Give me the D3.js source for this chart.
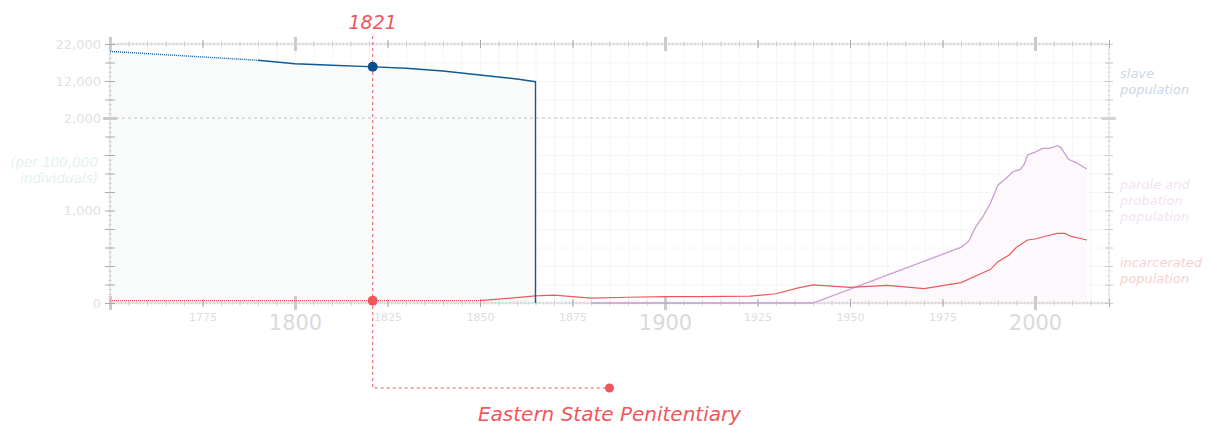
<!DOCTYPE html>
<html>
<head>
<meta charset="utf-8">
<script src="https://cdn.jsdelivr.net/npm/d3@7"></script>
<style>
  body { margin:0; background:#fff; }
  svg text { font-family:"DejaVu Sans", Verdana, sans-serif; }
</style>
</head>
<body>
<div id="canvas"></div>
<script>
// data (rates per 100,000 individuals)
var slaveYears = [1750, 1790, 1800, 1810, 1820, 1830, 1840, 1850, 1860, 1865, 1865];
var slaveRate  = [20000, 17600, 16680, 16270, 15890, 15460, 14700, 13620, 12540, 11810, 0];
var slaveEstimatedUntil = 1790;

var prisonYears = [1750, 1850, 1865, 1870, 1880, 1890, 1900, 1910, 1923, 1930, 1936, 1940, 1950, 1960, 1970, 1980, 1984, 1988, 1990, 1993, 1995, 1998, 2000, 2003, 2006, 2008, 2010, 2012, 2014];
var prisonRate  = [25, 25, 76, 86, 52, 62, 68, 68, 74, 100, 163, 195, 170, 191, 155, 220, 292, 364, 447, 519, 602, 681, 692, 724, 753, 753, 717, 700, 681];
var prisonEstimatedUntil = 1850;

var paroleYears = [1880, 1940, 1980, 1982, 1984, 1986, 1988, 1990, 1992, 1994, 1996, 1997, 1998, 2000, 2002, 2004, 2006, 2007, 2009, 2011, 2014];
var paroleRate  = [0, 0, 602, 663, 825, 940, 1083, 1276, 1341, 1419, 1445, 1492, 1600, 1630, 1672, 1672, 1701, 1683, 1553, 1521, 1449];

var yTickLabels = [0, 1000, 2000, 12000, 22000];
var smallYearLabels = [1775, 1825, 1850, 1875, 1925, 1950, 1975];
var bigYearLabels = [1800, 1900, 2000];

var eventYear = 1821;
var eventLabel = 'Eastern State Penitentiary';
var eventLabelYear = 1885;

var W = 1211, H = 428;
var m = {t:44, r:101, b:125, l:110};

var x = d3.scaleLinear().domain([1750, 2020]).range([m.l, W - m.r - 1]);
var y = d3.scaleLinear().domain([0, 2000, 22000]).range([H - m.b, 118, m.t]);

var x0 = x.range()[0], x1 = x.range()[1];
var yTop = y(22000), yBot = y(0);

var svg = d3.select('#canvas').append('svg')
    .attr('width', W).attr('height', H);

var red = '#f0575c', blue = '#0f5a96', purple = '#c99fd2';

function pairs(xs, vs){ return xs.map(function(d,i){ return [d, vs[i]]; }); }
var slave = pairs(slaveYears, slaveRate);
var prison = pairs(prisonYears, prisonRate);
var parole = pairs(paroleYears, paroleRate);

var yGridValues = d3.range(0, 2001, 200).concat([7000, 12000, 17000, 22000]);
var yMinorValues = d3.range(0, 2001, 50).concat(d3.range(2000, 22001, 1250));

// grid
var gv = svg.append('g').attr('transform','translate(0,' + yTop + ')')
    .call(d3.axisBottom(x).tickValues(d3.range(1750, 2021, 5)).tickSize(yBot - yTop).tickFormat(''));
gv.select('.domain').remove();
gv.selectAll('line').attr('stroke', '#f5f5f5');

var gh = svg.append('g').attr('transform','translate(' + x0 + ',0)')
    .call(d3.axisLeft(y).tickValues(yGridValues).tickSize(-(x1 - x0)).tickFormat(''));
gh.select('.domain').remove();
gh.selectAll('line').attr('stroke', '#f6f6f6');

// areas
var area = d3.area().x(function(d){ return x(d[0]); }).y0(yBot).y1(function(d){ return y(d[1]); });
svg.append('path').datum(slave).attr('d', area).attr('fill', '#f8fbfa');
svg.append('path').datum(parole).attr('d', area).attr('fill', '#fcf8fc');

// dashed line at 2,000
svg.append('line').attr('x1', x0).attr('x2', x1).attr('y1', y(2000)).attr('y2', y(2000))
    .attr('stroke', '#c4c4c4').attr('stroke-dasharray', '3,3');

// tick rows on the axes
function xTicks(yPos, values, size, color, width){
    var g = svg.append('g').attr('transform', 'translate(0,' + (yPos - size) + ')')
        .call(d3.axisBottom(x).tickValues(values).tickSize(size * 2).tickFormat(''));
    g.select('.domain').remove();
    g.selectAll('line').attr('stroke', color).attr('stroke-width', width);
}
function yTicks(xPos, values, size, color, width){
    var g = svg.append('g').attr('transform', 'translate(' + (xPos + size) + ',0)')
        .call(d3.axisLeft(y).tickValues(values).tickSize(size * 2).tickFormat(''));
    g.select('.domain').remove();
    g.selectAll('line').attr('stroke', color).attr('stroke-width', width);
}

[yTop, yBot].forEach(function(yy){
    svg.append('line').attr('x1', x0).attr('x2', x1).attr('y1', yy).attr('y2', yy)
        .attr('stroke', '#d4d4d4');
    xTicks(yy, d3.range(1750, 2021, 1), 1.5, '#d4d4d4', 1);
    xTicks(yy, d3.range(1750, 2021, 5), 2.5, '#cccccc', 1);
    xTicks(yy, [1775, 1825, 1850, 1875, 1925, 1950, 1975, 2020], 4, '#a8a8a8', 1);
    xTicks(yy, [1750, 1800, 1900, 2000], 7, '#cbcbcb', 3);
});
[[x0, 1], [x1, 0.6]].forEach(function(p){
    var g = svg.append('g').attr('opacity', p[1]);
    g.append('line').attr('x1', p[0]).attr('x2', p[0]).attr('y1', yTop).attr('y2', yBot)
        .attr('stroke', '#d0d0d0');
});
yTicks(x0, yMinorValues, 1.5, '#cccccc', 1);
yTicks(x0, yGridValues, 5, '#ababab', 1);
yTicks(x1, yMinorValues, 1.5, '#dadada', 1);
yTicks(x1, yGridValues, 4, '#cacaca', 1);
yTicks(x0, [2000], 7, '#cacaca', 3);
yTicks(x1, [2000], 7, '#d4d4d4', 3);

// axis labels
var ya = svg.append('g').attr('transform', 'translate(' + (x0 - 9) + ',0)')
    .call(d3.axisLeft(y).tickValues(yTickLabels).tickSize(0).tickPadding(0).tickFormat(d3.format(',')));
ya.select('.domain').remove();
ya.selectAll('text').attr('fill', '#e2e2e2').style('font-size', '13px');

var xs = svg.append('g').attr('transform', 'translate(0,' + (yBot + 10) + ')')
    .call(d3.axisBottom(x).tickValues(smallYearLabels).tickSize(0).tickPadding(0).tickFormat(d3.format('d')));
xs.select('.domain').remove();
xs.selectAll('text').attr('fill', '#dedede').style('font-size', '11px');

var xb = svg.append('g').attr('transform', 'translate(0,' + (yBot + 12) + ')')
    .call(d3.axisBottom(x).tickValues(bigYearLabels).tickSize(0).tickPadding(0).tickFormat(d3.format('d')));
xb.select('.domain').remove();
xb.selectAll('text').attr('fill', '#dadada').style('font-size', '21px');

// lines
var line = d3.line().x(function(d){ return x(d[0]); }).y(function(d){ return y(d[1]); });
function drawSeries(data, cut, color, width){
    svg.append('path').datum(data.filter(function(d){ return d[0] <= cut; }))
        .attr('d', line).attr('fill', 'none').attr('stroke', color)
        .attr('stroke-width', width).attr('stroke-dasharray', '1,1');
    svg.append('path').datum(data.filter(function(d){ return d[0] >= cut; }))
        .attr('d', line).attr('fill', 'none').attr('stroke', color).attr('stroke-width', width);
}
drawSeries(parole, 0, purple, 1.3);
drawSeries(prison, prisonEstimatedUntil, red, 1.2);
drawSeries(slave, slaveEstimatedUntil, blue, 1.4);

// event annotation
var slaveAt = d3.scaleLinear().domain(slaveYears.slice(0, -1)).range(slaveRate.slice(0, -1));
var prisonAt = d3.scaleLinear().domain(prisonYears).range(prisonRate);
var ex = x(eventYear), elY = 388;

svg.append('path')
    .attr('d', 'M' + ex + ',36V' + elY + 'H' + x(eventLabelYear))
    .attr('fill', 'none').attr('stroke', red).attr('stroke-dasharray', '3,3');
svg.append('circle').attr('cx', x(eventLabelYear)).attr('cy', elY).attr('r', 4.5).attr('fill', red);
svg.append('circle').attr('cx', ex).attr('cy', y(slaveAt(eventYear))).attr('r', 5).attr('fill', '#0b4f8a');
svg.append('circle').attr('cx', ex).attr('cy', y(prisonAt(eventYear))).attr('r', 5).attr('fill', red);

svg.append('text').attr('x', ex).attr('y', 29).attr('text-anchor', 'middle')
    .attr('fill', red).style('font-size', '19px').style('font-style', 'italic').text(eventYear);
svg.append('text').attr('x', x(eventLabelYear)).attr('y', 421).attr('text-anchor', 'middle')
    .attr('fill', red).style('font-size', '20px').style('font-style', 'italic').text(eventLabel);

// side labels
function label(xx, yy, lines, color, anchor, size){
    var t = svg.append('text').attr('x', xx).attr('y', yy).attr('text-anchor', anchor || 'start')
        .attr('fill', color).style('font-size', size || '13px').style('font-style', 'italic');
    t.selectAll('tspan').data(lines).enter().append('tspan')
        .attr('x', xx).attr('dy', function(d,i){ return i ? 16 : 0; }).text(function(d){ return d; });
}
label(x1 + 11, 78, ['slave', 'population'], '#c9d9e7');
label(x1 + 11, 189, ['parole and', 'probation', 'population'], '#f4e2f2');
label(x1 + 11, 267, ['incarcerated', 'population'], '#fbcfd0');
label(98, 167, ['(per 100,000', 'individuals)'], '#e4f2f1', 'end', '13.5px');
</script>
</body>
</html>
